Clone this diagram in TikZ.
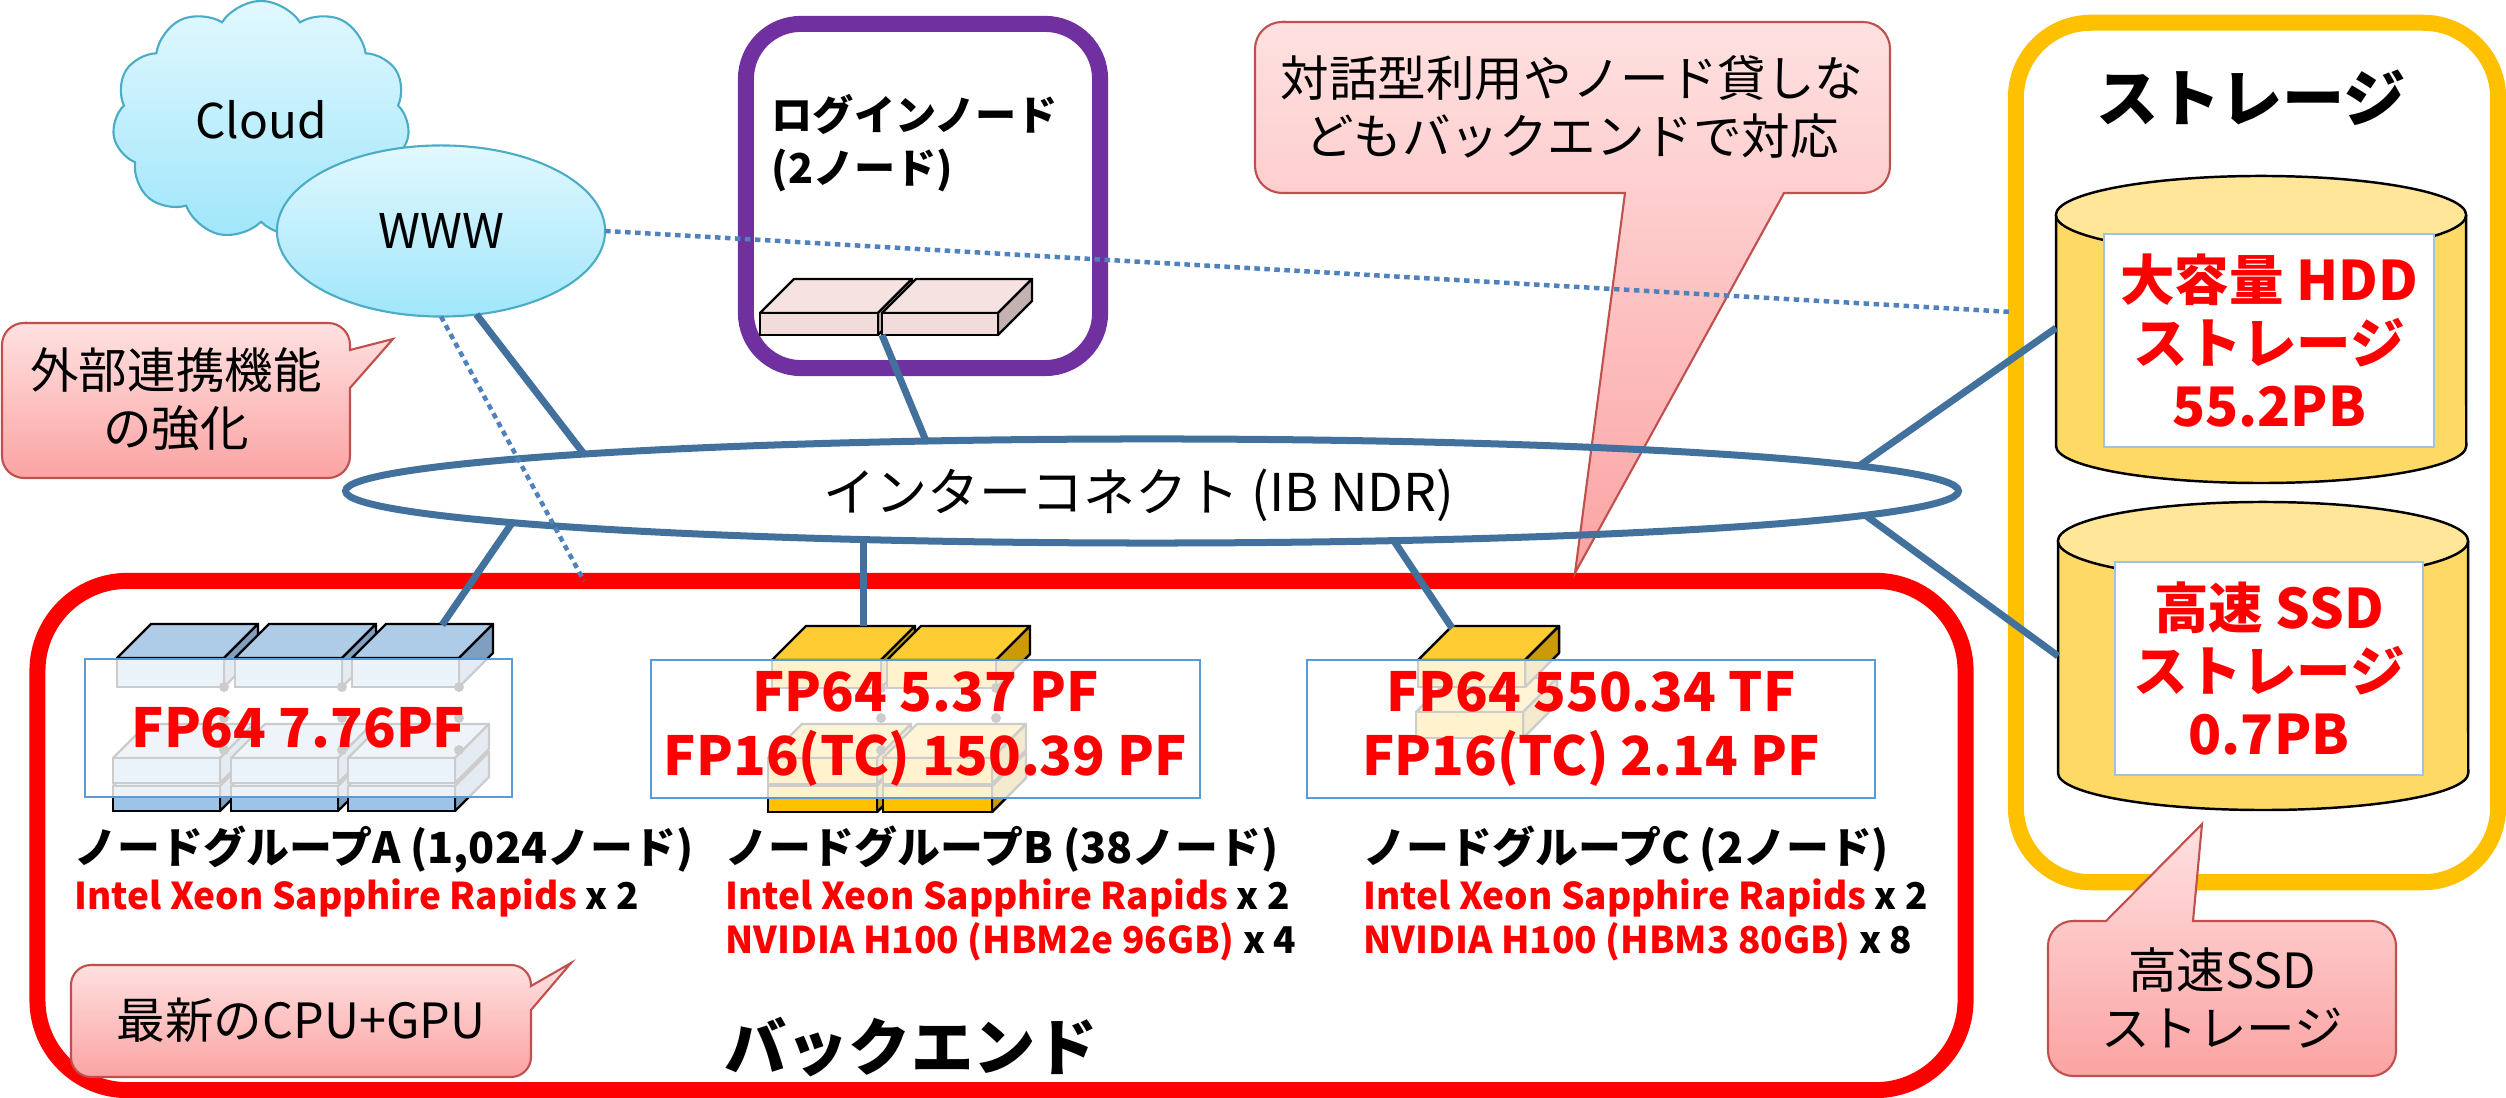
\documentclass[tikz,border=0pt]{standalone}
\usepackage{fontspec}
\setmainfont{Noto Sans CJK JP}
\usetikzlibrary{shapes.geometric,shapes.symbols}
\definecolor{nlink}{HTML}{41719C}
\definecolor{ndot}{HTML}{4F81BD}
\definecolor{nred}{HTML}{FF0000}
\definecolor{npurple}{HTML}{7030A0}
\definecolor{ngold}{HTML}{FFC000}
\definecolor{nframe}{HTML}{5B9BD5}
\definecolor{nframelt}{HTML}{9DC3E6}
\definecolor{ncalltop}{HTML}{FFE1E1}
\definecolor{ncallbot}{HTML}{FBA3A3}
\definecolor{ncallline}{HTML}{C0504D}
\definecolor{nskytop}{HTML}{E2F8FE}
\definecolor{nskybot}{HTML}{A0E6FB}
\definecolor{nskyline}{HTML}{4BACC6}
\definecolor{nbluetop}{HTML}{AECCE8}
\definecolor{nbluefront}{HTML}{9DC3E6}
\definecolor{nblueside}{HTML}{7F9FC0}
\definecolor{nyeltop}{HTML}{FFCC33}
\definecolor{nyelfront}{HTML}{FFC000}
\definecolor{nyelside}{HTML}{CC9A06}
\definecolor{npinktop}{HTML}{F5E2E1}
\definecolor{npinkfront}{HTML}{F2DCDB}
\definecolor{npinkside}{HTML}{C4B2B1}
\definecolor{ndrumbody}{HTML}{FFD966}
\definecolor{ndrumtop}{HTML}{FFE699}

\newcommand\setfs[2]{\fontsize{#1}{#2}\selectfont}
% one server slab: front corner (x,y), width, height, then top/front/side fill
\newcommand\slab[7]{%
  \filldraw[fill=#5, draw=black, line width=0.7pt, line join=round]
    (#1,#2) -- ++(34,-34) -- ++(#3,0) -- ++(-34,34) -- cycle;
  \filldraw[fill=#7, draw=black, line width=0.7pt, line join=round]
    (#1+#3,#2) -- ++(34,-34) -- ++(0,#4) -- ++(-34,34) -- cycle;
  \filldraw[fill=#6, draw=black, line width=0.7pt] (#1,#2) rectangle ++(#3,#4);
}
% storage drum: centre x, top y, bottom y
\newcommand\drum[3]{%
  \filldraw[fill=ndrumbody, draw=black, line width=0.7pt]
    (#1-205,#2) -- (#1-205,#3) arc[start angle=180, end angle=360, x radius=2.05cm, y radius=0.37cm] -- (#1+205,#2);
  \filldraw[fill=ndrumtop, draw=black, line width=0.7pt] (#1,#2) ellipse[x radius=2.05cm, y radius=0.39cm];
}

\begin{document}
\begin{tikzpicture}[x=0.01cm, y=-0.01cm,
  link/.style={draw=nlink, line width=0.07cm},
  dotlink/.style={draw=ndot, line width=0.045cm, dash pattern=on 0.055cm off 0.045cm},
  frame/.style={rectangle, line width=0.16cm, inner sep=0pt},
  callout/.style={top color=ncalltop, bottom color=ncallbot, draw=ncallline, line width=0.6pt},
  calltext/.style={font=\setfs{13.8}{16.5}, align=center, inner sep=0pt},
  perf/.style={draw=nframe, line width=0.6pt, fill=white, fill opacity=0.8, text opacity=1, text=nred, font=\setfs{15.3}{18.2}\bfseries, align=center, inner sep=0pt, minimum height=1.38cm},
  grplabel/.style={font=\setfs{12.2}{14}\bfseries, inner sep=0pt, anchor=base west},
  spec/.style={text=nred, font=\setfs{10.5}{13}\bfseries, inner sep=0pt, anchor=base west},
  capacity/.style={draw=nframelt, line width=0.6pt, fill=white, text=nred, font=\setfs{15.5}{18}\bfseries, align=center, inner sep=0pt, minimum height=2.13cm},
  heading/.style={font=\setfs{17.7}{20}\bfseries, inner sep=0pt}]
 \useasboundingbox (0,0) rectangle (2506,1098);

 % frames
 \node[frame, draw=nred, rounded corners=0.9cm, minimum width=19.27cm, minimum height=5.09cm] (backend) at (1001.5,835.5) {};
 \node[frame, draw=npurple, rounded corners=0.55cm, minimum width=3.54cm, minimum height=3.44cm] (login) at (923,196) {};
 \node[frame, draw=ngold, rounded corners=0.75cm, minimum width=4.82cm, minimum height=8.59cm] (storage) at (2257,452.5) {};

 % callouts
 \path[callout] (24,323) -- (328,323) arc[start angle=90, end angle=0, radius=0.22cm] -- (350,350) -- (393,339) -- (350,388) -- (350,456) arc[start angle=0, end angle=-90, radius=0.22cm] -- (24,478) arc[start angle=270, end angle=180, radius=0.22cm] -- (2,345) arc[start angle=180, end angle=90, radius=0.22cm] -- cycle;
 \node[calltext] (extnote) at (176,399) {外部連携機能\\の強化};
 \path[callout] (1282,22) -- (1863,22) arc[start angle=90, end angle=0, radius=0.27cm] -- (1890,166) arc[start angle=0, end angle=-90, radius=0.27cm] -- (1784,193) -- (1575,573) -- (1625,193) -- (1282,193) arc[start angle=270, end angle=180, radius=0.27cm] -- (1255,49) arc[start angle=180, end angle=90, radius=0.27cm] -- cycle;
 \node[calltext] (ondemand) at (1572,107) {対話型利用やノード貸しな\\どもバックエンドで対応};
 \path[callout] (91,965) -- (511,965) arc[start angle=90, end angle=0, radius=0.2cm] -- (531,986) -- (571,963) -- (531,1010) -- (531,1057) arc[start angle=0, end angle=-90, radius=0.2cm] -- (91,1077) arc[start angle=270, end angle=180, radius=0.2cm] -- (71,985) arc[start angle=180, end angle=90, radius=0.2cm] -- cycle;
 \node[calltext] (cpunote) at (301,1020) {最新のCPU+GPU};
 \path[callout] (2073,921) -- (2106,921) -- (2202,824) -- (2193,921) -- (2371,921) arc[start angle=90, end angle=0, radius=0.25cm] -- (2396,1051) arc[start angle=0, end angle=-90, radius=0.25cm] -- (2073,1076) arc[start angle=270, end angle=180, radius=0.25cm] -- (2048,946) arc[start angle=180, end angle=90, radius=0.25cm] -- cycle;
 \node[calltext] (ssdnote) at (2222,998) {高速SSD\\ストレージ};

 % outside world
 \node[cloud, cloud puffs=11, cloud puff arc=115, aspect=1.26, minimum width=2.97cm, minimum height=2.38cm, top color=nskytop, bottom color=nskybot, draw=nskyline, line width=0.6pt, font=\setfs{13.6}{16}] (cloud) at (261,120) {Cloud};
 \node[ellipse, minimum width=3.28cm, minimum height=1.71cm, inner sep=0pt, outer sep=0pt, top color=nskytop, bottom color=nskybot, draw=nskyline, line width=0.6pt, font=\setfs{13.6}{16}] (www) at (441,231) {WWW};

 % interconnect
 \node[ellipse, draw=nlink, line width=0.07cm, minimum width=16.12cm, minimum height=1.04cm, inner sep=0pt, outer sep=0pt] (ic) at (1152,491) {};
 \node[font=\setfs{14.8}{17}, inner sep=0pt] (ictext) at (1139,495) {インターコネクト (IB NDR)};

 % login nodes
 \node[anchor=west, align=left, font=\setfs{11.7}{15}\bfseries, inner sep=0pt] (logintxt) at (771,143) {ログインノード\\(2ノード)};
 \slab{760}{313}{118}{22}{npinktop}{npinkfront}{npinkside}
 \slab{882}{313}{116}{22}{npinktop}{npinkfront}{npinkside}

 % storage
 \node[heading] (stortitle) at (2251,98) {ストレージ};
 \drum{2261}{215}{446}
 \node[capacity, minimum width=3.30cm] (hdd) at (2269,340.5) {大容量 HDD\\ストレージ\\55.2PB};
 \drum{2263}{541}{773}
 \node[capacity, minimum width=3.08cm] (ssd) at (2269,668.5) {高速 SSD\\ストレージ\\0.7PB};

 % node group A
 \foreach \c in {117,235,352} {
   \slab{\c-4}{786}{107}{25}{nbluetop}{nbluefront}{nblueside}
   \slab{\c-4}{758}{107}{25}{nbluetop}{nbluefront}{nblueside}
   \slab{\c}{658}{107}{29}{nbluetop}{nbluefront}{nblueside}
   \foreach \y in {687,718,750} \fill (\c+107,\y) circle (0.05cm);
 }
 \node[perf, minimum width=4.27cm] (perfA) at (298.5,728) {FP64 7.76PF};
 \node[grplabel] (grpA) at (74,864) {ノードグループA (1,024ノード)};
 \node[spec] (cpuA) at (74,910) {Intel Xeon Sapphire Rapids \textcolor{black}{x 2}};

 % node group B
 \foreach \c in {772,887} {
   \slab{\c-4}{786}{109}{26}{nyeltop}{nyelfront}{nyelside}
   \slab{\c-4}{758}{109}{26}{nyeltop}{nyelfront}{nyelside}
   \slab{\c}{660}{109}{28}{nyeltop}{nyelfront}{nyelside}
   \foreach \y in {688,718,750} \fill (\c+109,\y) circle (0.05cm);
 }
 \node[perf, minimum width=5.49cm] (perfB) at (925.5,729) {FP64 5.37 PF\\FP16(TC) 150.39 PF};
 \node[grplabel] (grpB) at (725,864) {ノードグループB (38ノード)};
 \node[spec] (cpuB) at (725,910) {Intel Xeon Sapphire Rapids \textcolor{black}{x 2}};
 \node[spec] (gpuB) at (725,954) {NVIDIA H100 (HBM2e 96GB) \textcolor{black}{x 4}};

 % node group C
 \slab{1416}{712}{107}{26}{nyeltop}{nyelfront}{nyelside}
 \slab{1418}{660}{107}{27}{nyeltop}{nyelfront}{nyelside}
 \node[perf, minimum width=5.68cm] (perfC) at (1591,729) {FP64 550.34 TF\\FP16(TC) 2.14 PF};
 \node[grplabel] (grpC) at (1363,864) {ノードグループC (2ノード)};
 \node[spec] (cpuC) at (1363,910) {Intel Xeon Sapphire Rapids \textcolor{black}{x 2}};
 \node[spec] (gpuC) at (1363,954) {NVIDIA H100 (HBM3 80GB) \textcolor{black}{x 8}};

 \node[heading] (bktitle) at (911,1047) {バックエンド};

 % taps on the interconnect ring
 \coordinate (icW) at (584,454);
 \coordinate (icA) at (512,523);
 \coordinate (icL) at (926,441);
 \coordinate (icB) at (863,540);
 \coordinate (icC) at (1394,541);
 \coordinate (icH) at (1859,466);
 \coordinate (icS) at (1865,515);
 % ports on the equipment
 \coordinate (portA) at (442,625);
 \coordinate (portB) at (863,626);
 \coordinate (portC) at (1452,628);
 \coordinate (portLogin) at (882,335);
 \coordinate (portHDD) at (2056,328);
 \coordinate (portSSD) at (2058,656);
 \coordinate (tapStorage) at (2012,312);
 \coordinate (tapBackend) at (584,581);

 \draw[link] (www.-67.8) -- (icW);
 \draw[link] (icA) -- (portA);
 \draw[link] (portLogin) -- (icL);
 \draw[link] (icB) -- (portB);
 \draw[link] (icC) -- (portC);
 \draw[link] (icH) -- (portHDD);
 \draw[link] (icS) -- (portSSD);
 \draw[dotlink] (www.east) -- (tapStorage);
 \draw[dotlink] (www.south) -- (tapBackend);
\end{tikzpicture}
\end{document}
